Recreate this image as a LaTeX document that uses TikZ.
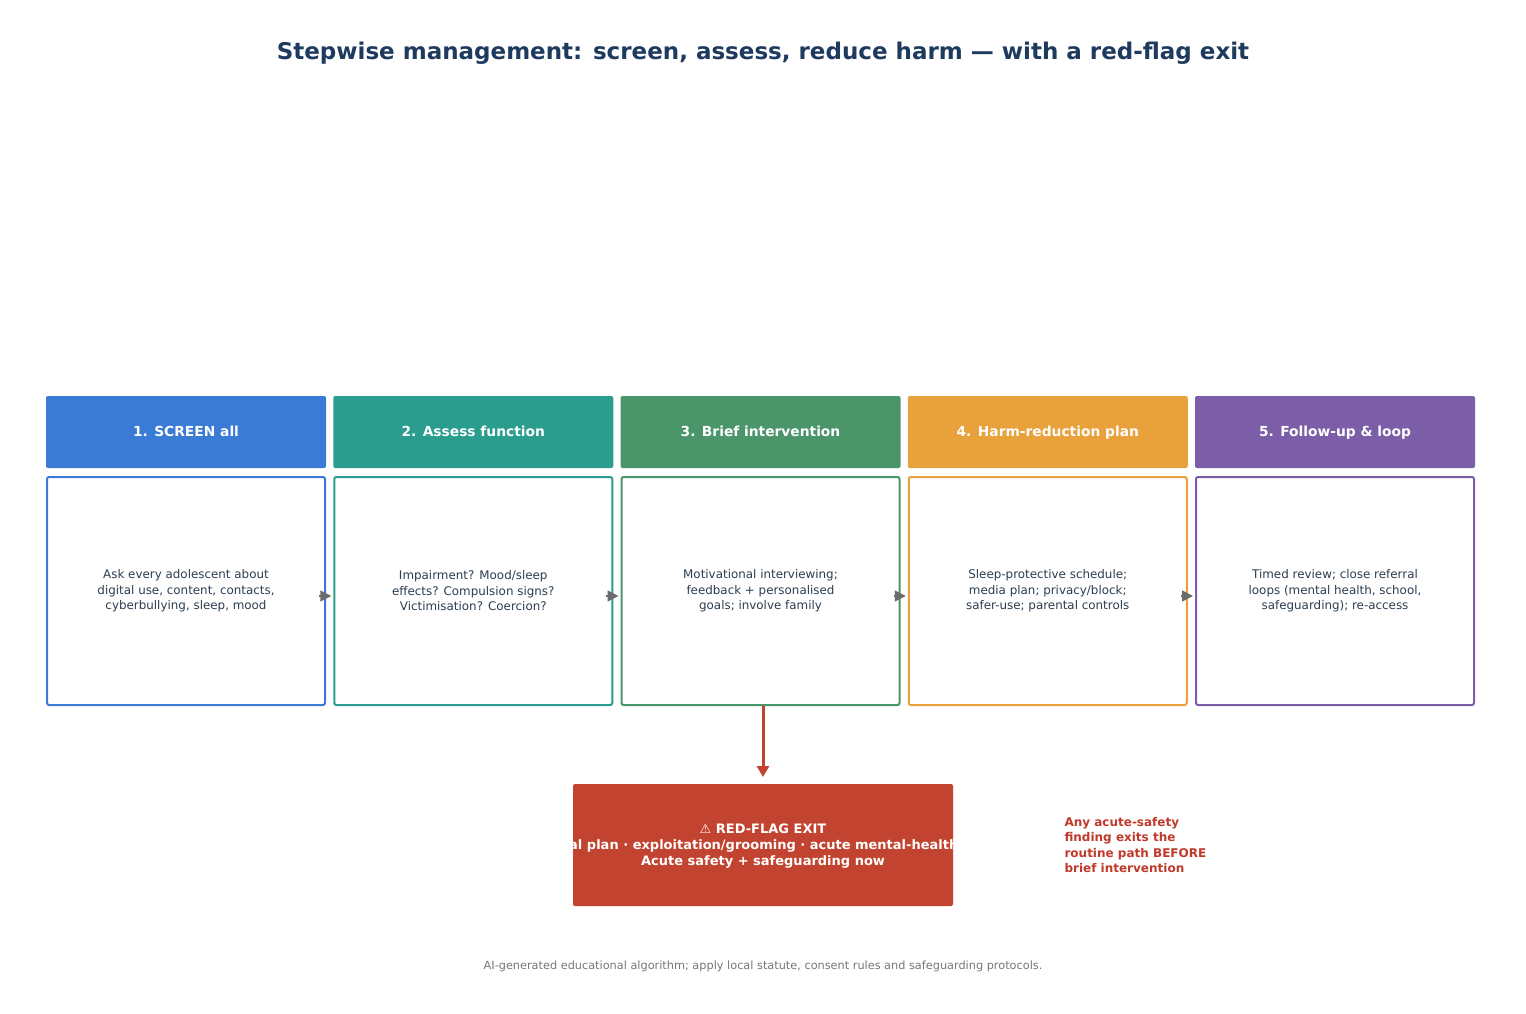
\documentclass[tikz,border=0pt]{standalone}
\usepackage{fontspec}
\setmainfont{DejaVu Sans}
\usetikzlibrary{arrows.meta}
\definecolor{navy}{HTML}{1F3A5F}
\definecolor{bodytxt}{HTML}{2C3E50}
\definecolor{cblue}{HTML}{3A7BD5}
\definecolor{cteal}{HTML}{2A9D8F}
\definecolor{cgreen}{HTML}{4A956A}
\definecolor{corange}{HTML}{E9A23B}
\definecolor{cpurple}{HTML}{7B5EA7}
\definecolor{cred}{HTML}{C2432F}
\definecolor{credtxt}{HTML}{C0392B}
\definecolor{arrgray}{HTML}{6B6B6B}
\definecolor{foot}{HTML}{777777}
\tikzset{
  hdr/.style={fill=#1, draw=none, rounded corners=2pt, minimum width=280pt, minimum height=72pt, inner sep=0pt,
    text=white, text height=10pt, text depth=3pt, font=\fontsize{13.8}{16}\selectfont\bfseries},
  bodybox/.style={fill=white, draw=#1, line width=2pt, rounded corners=2pt, minimum width=278pt, minimum height=228pt, inner sep=0pt,
    text=bodytxt, align=center, font=\fontsize{11.9}{15.5}\selectfont},
  flow/.style={draw=arrgray, line width=1.5pt, -{Triangle[length=11pt,width=11pt]}},
}
\begin{document}
\begin{tikzpicture}[x=1pt,y=-1pt]
\useasboundingbox[fill=white] (0,0) rectangle (1526,1014);
\node[text=navy, font=\fontsize{23}{26}\selectfont\bfseries] (title) at (763,53) {Stepwise management: screen, assess, reduce harm — with a red-flag exit};

\node[hdr=cblue] (h1) at (186,432) {\raisebox{-1pt}{1. SCREEN all}};
\node[hdr=cteal] (h2) at (473.25,432) {\raisebox{-1pt}{2. Assess function}};
\node[hdr=cgreen] (h3) at (760.5,432) {\raisebox{-1pt}{3. Brief intervention}};
\node[hdr=corange] (h4) at (1047.75,432) {\raisebox{-1pt}{4. Harm-reduction plan}};
\node[hdr=cpurple] (h5) at (1335,432) {\raisebox{-1pt}{5. Follow-up \& loop}};

\node[bodybox=cblue] (b1) at (186,591) {Ask every adolescent about\\digital use, content, contacts,\\cyberbullying, sleep, mood};
\node[bodybox=cteal] (b2) at (473.25,591) {Impairment? Mood/sleep\\effects? Compulsion signs?\\Victimisation? Coercion?};
\node[bodybox=cgreen] (b3) at (760.5,591) {Motivational interviewing;\\feedback + personalised\\goals; involve family};
\node[bodybox=corange] (b4) at (1047.75,591) {Sleep-protective schedule;\\media plan; privacy/block;\\safer-use; parental controls};
\node[bodybox=cpurple] (b5) at (1335,591) {Timed review; close referral\\loops (mental health, school,\\safeguarding); re-access};

\foreach \a/\b in {b1/b2,b2/b3,b3/b4,b4/b5}{
  \draw[flow] ([xshift=-7pt,yshift=-5pt]\a.east) -- ([xshift=-2pt,yshift=-5pt]\b.west);
}

\node[fill=cred, rounded corners=2pt, minimum width=380pt, minimum height=122pt, inner sep=0pt] (rf) at (763,845) {};
\begin{scope}
\clip (rf.south west) rectangle (rf.north east);
\node[text=white, align=center, font=\fontsize{13}{16}\selectfont\bfseries] (rft) at (763,846.5) {⚠ RED-FLAG EXIT\\Suicidal plan · exploitation/grooming · acute mental-health crisis\\Acute safety + safeguarding now};
\end{scope}
\coordinate (rfin) at (763,777);
\draw[draw=cred, line width=3pt, -{Triangle[length=11pt,width=12pt]}] (b3.south -| rfin) -- (rfin);

\node[anchor=west, text=credtxt, align=left, font=\fontsize{12}{15.3}\selectfont\bfseries] (note) at (1061,845) {Any acute-safety\\finding exits the\\routine path BEFORE\\brief intervention};

\node[text=foot, font=\fontsize{11.3}{13}\selectfont] (footer) at (763,966) {AI-generated educational algorithm; apply local statute, consent rules and safeguarding protocols.};
\end{tikzpicture}
\end{document}
